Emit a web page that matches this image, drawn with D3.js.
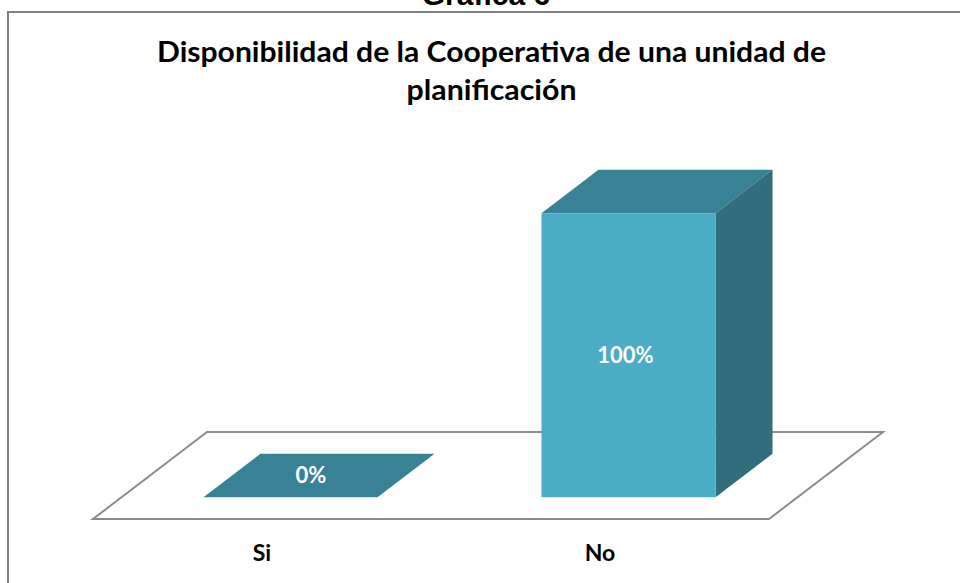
<!DOCTYPE html>
<html>
<head>
<meta charset="utf-8">
<script src="https://cdn.jsdelivr.net/npm/d3@7"></script>
<style>
  html, body { margin: 0; padding: 0; background: #fff; }
  svg { display: block; }
</style>
</head>
<body>
<svg id="chart" width="960" height="583"></svg>
<script>
// ---- data ----
const categories = ["Si", "No"];
const values = [0, 100];
const valueLabels = ["0%", "100%"];
const pageTitle = "Gráfica 6";
const titleLines = ["Disponibilidad de la Cooperativa de una unidad de", "planificación"];

// ---- layout ----
const W = 960, H = 583;
const svg = d3.select("#chart");
const floorFront = 519;          // y of front edge of floor
const depth = { dx: 114, dy: -87 }; // full depth vector of floor
const barDepth0 = 0.25, barDepth1 = 0.75;

const x = d3.scaleBand().domain(categories).range([93, 769]).paddingInner(0).paddingOuter(0);
const y = d3.scaleLinear().domain([0, 100]).range([0, 284]);
const barFrac = 0.515;

const colFront = "#4BACC6", colTop = "#388296", colSide = "#316D7C";

// frame
svg.append("rect").attr("x", 8).attr("y", 12).attr("width", 1000).attr("height", 700)
  .attr("fill", "none").attr("stroke", "#808080").attr("stroke-width", 2);

// page title (clipped at top, as in the source)
svg.append("text").attr("x", 486).attr("y", 5).attr("text-anchor", "middle")
  .attr("font-family", "Liberation Sans, Arial, sans-serif").attr("font-weight", "bold")
  .attr("font-size", 30).attr("fill", "#000").text(pageTitle);

// chart title
const tl = [62, 100];
const tlen = [669, 170];
titleLines.forEach((t, i) => {
  svg.append("text").attr("x", 491.5).attr("y", tl[i]).attr("text-anchor", "middle")
    .attr("font-family", "Lato, 'Open Sans', sans-serif").attr("font-weight", "bold")
    .attr("font-size", 28).attr("fill", "#000")
    .attr("textLength", tlen[i]).attr("lengthAdjust", "spacingAndGlyphs").text(t);
});

// floor
const fx0 = x.range()[0], fx1 = x.range()[1];
const floorPts = [[fx0, floorFront], [fx1, floorFront], [fx1 + depth.dx, floorFront + depth.dy], [fx0 + depth.dx, floorFront + depth.dy]];
svg.append("polygon").attr("points", floorPts.map(p => p.join(",")).join(" "))
  .attr("fill", "#fff").attr("stroke", "#8c8c8c").attr("stroke-width", 2).attr("stroke-linejoin", "miter");

// bars
const data = categories.map((c, i) => ({ c, v: values[i], label: valueLabels[i] }));
const off0 = { x: depth.dx * barDepth0, y: depth.dy * barDepth0 };
const dd = { x: depth.dx * (barDepth1 - barDepth0), y: depth.dy * (barDepth1 - barDepth0) };

const g = svg.append("g");
data.forEach(d => {
  const bw = x.bandwidth() * barFrac;
  const cx = x(d.c) + x.bandwidth() / 2 + off0.x;
  const bx0 = cx - bw / 2, bx1 = cx + bw / 2;
  const base = floorFront + off0.y;
  const top = base - y(d.v);
  const poly = (pts, fill) => g.append("polygon").attr("points", pts.map(p => p.join(",")).join(" ")).attr("fill", fill);
  // top face
  poly([[bx0, top], [bx1, top], [bx1 + dd.x, top + dd.y], [bx0 + dd.x, top + dd.y]], colTop);
  if (d.v > 0) {
    // side face
    poly([[bx1, top], [bx1 + dd.x, top + dd.y], [bx1 + dd.x, base + dd.y], [bx1, base]], colSide);
    // front face
    poly([[bx0, top], [bx1, top], [bx1, base], [bx0, base]], colFront);
  }
  // label
  let lx, ly;
  if (d.v > 0) { lx = cx - 3; ly = (top + base) / 2 + 8; }
  else { lx = cx + dd.x / 2 - 8; ly = top + dd.y / 2 + 7; }
  g.append("text").attr("x", lx).attr("y", ly).attr("text-anchor", "middle")
    .attr("font-family", "Lato, 'Open Sans', sans-serif").attr("font-weight", "bold")
    .attr("font-size", 22).attr("fill", "#fff").text(d.label);
});

// category labels
svg.append("g").selectAll("text").data(categories).join("text")
  .attr("x", d => x(d) + x.bandwidth() / 2).attr("y", 561).attr("text-anchor", "middle")
  .attr("font-family", "Lato, 'Open Sans', sans-serif").attr("font-weight", "bold")
  .attr("font-size", 23).attr("fill", "#000").text(d => d);
</script>
</body>
</html>
